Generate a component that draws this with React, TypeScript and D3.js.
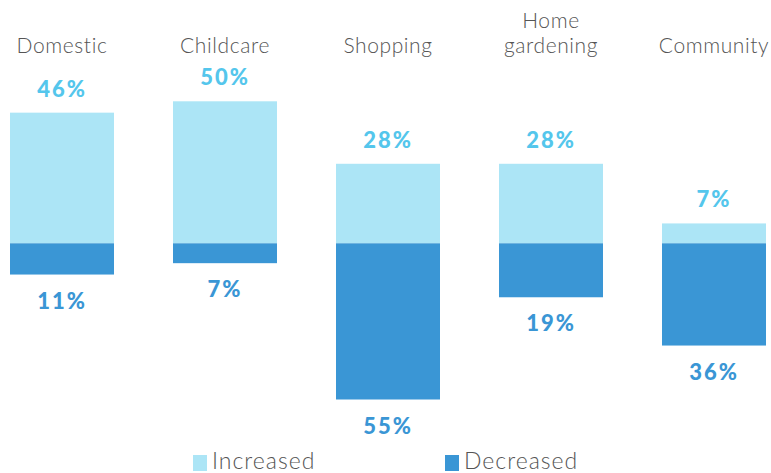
import React from "react";
import * as d3 from "d3";

const categories: string[][] = [["Domestic"], ["Childcare"], ["Shopping"], ["Home", "gardening"], ["Community"]];
const increased: number[] = [46, 50, 28, 28, 7];
const decreased: number[] = [11, 7, 55, 19, 36];
const seriesNames = ["Increased", "Decreased"];

const W = 771;
const H = 473;
const LIGHT = "#ACE5F6";
const DARK = "#3A96D5";
const LIGHT_TXT = "#54C6EC";
const GRAY = "#555555";
const FONT = "Lato, 'Open Sans', sans-serif";

export default function App() {
  const keys = categories.map((c) => c.join(" "));
  const x = d3.scaleBand<string>().domain(keys).range([10, 766]).paddingInner(0.362).paddingOuter(0);
  const y = d3.scaleLinear().domain([-55, 50]).range([399.5, 101.3]);
  const bw = x.bandwidth();

  return (
    <svg width={W} height={H} style={{ position: "absolute", left: 0, top: 0 }}>
      {keys.map((k, i) => {
        const x0 = x(k)!;
        const cx = x0 + bw / 2;
        const inc = increased[i];
        const dec = decreased[i];
        const lines = categories[i];
        return (
          <g key={k}>
            {lines.map((ln, j) => (
              <text key={j} x={cx} y={53 - (lines.length - 1 - j) * 25} textAnchor="middle"
                fontFamily={FONT} fontWeight={300} fontSize={21} letterSpacing={0.6} fill={GRAY}>{ln}</text>
            ))}
            <rect x={x0} y={y(inc)} width={bw} height={y(0) - y(inc)} fill={LIGHT} />
            <rect x={x0} y={y(0)} width={bw} height={y(-dec) - y(0)} fill={DARK} />
            <text x={cx} y={y(inc) - 16} textAnchor="middle" fontFamily={FONT} fontWeight={900}
              fontSize={22} letterSpacing={2} fill={LIGHT_TXT}>{inc}%</text>
            <text x={cx} y={y(-dec) + 34} textAnchor="middle" fontFamily={FONT} fontWeight={900}
              fontSize={22} letterSpacing={2} fill={DARK}>{dec}%</text>
          </g>
        );
      })}
      {seriesNames.map((s, i) => {
        const lx = i === 0 ? 193 : 445;
        return (
          <g key={s}>
            <rect x={lx} y={455} width={14} height={16} fill={i === 0 ? LIGHT : DARK} />
            <text x={lx + 19} y={469} fontFamily={FONT} fontWeight={300} fontSize={23} letterSpacing={1} fill={GRAY}>{s}</text>
          </g>
        );
      })}
    </svg>
  );
}
